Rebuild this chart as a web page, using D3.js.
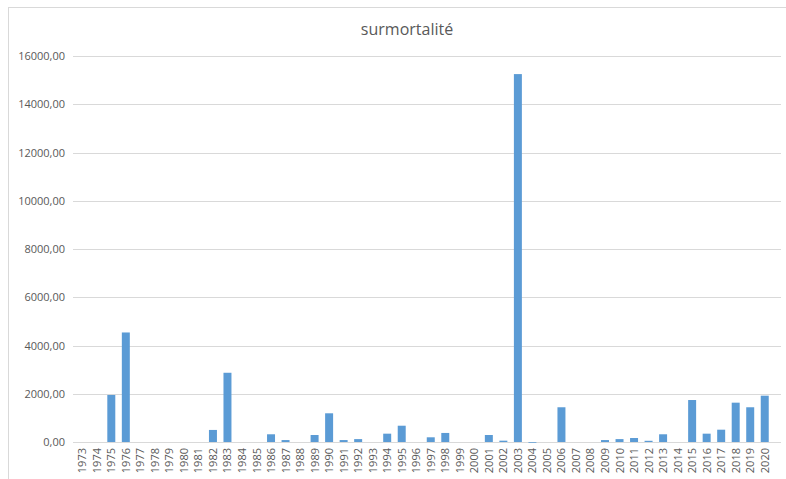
<!DOCTYPE html>
<html>
<head>
<meta charset="utf-8">
<script src="https://cdn.jsdelivr.net/npm/d3@7"></script>
<style>
  body { margin: 0; background: #fff; }
  text { font-family: "Open Sans", "DejaVu Sans", sans-serif; fill: #595959; }
</style>
</head>
<body>
<svg id="canvas" width="786" height="479"></svg>
<script>
const years = d3.range(1973, 2021).map(String)
const surmortalite = [
  0, 0, 1950, 4540, 0, 0, 0, 0, 0, 500,
  2870, 0, 0, 320, 80, 0, 290, 1190, 80, 120,
  0, 345, 675, 0, 195, 375, 0, 0, 290, 55,
  15250, -30, 0, 1440, 0, 0, 80, 120, 165, 50,
  320, 0, 1740, 345, 510, 1630, 1440, 1920
]
const yTicks = [0, 2000, 4000, 6000, 8000, 10000, 12000, 14000, 16000]

const svg = d3.select("#canvas")
const margin = { left: 75, right: 6, top: 56, bottom: 37 }
const W = 786, H = 479

// frame
svg.append("rect")
  .attr("x", 8.5).attr("y", 7.5)
  .attr("width", 800).attr("height", 500)
  .attr("fill", "none").attr("stroke", "#d9d9d9")

const x = d3.scaleBand()
  .domain(years)
  .range([margin.left, 772])
  .paddingInner(0.45).paddingOuter(0.225)

const y = d3.scaleLinear()
  .domain([0, 16000])
  .range([442, 56])

// gridlines
svg.append("g")
  .selectAll("line")
  .data(yTicks)
  .enter()
  .append("line")
  .attr("x1", 73).attr("x2", 781)
  .attr("y1", (d) => Math.round(y(d)) + 0.5)
  .attr("y2", (d) => Math.round(y(d)) + 0.5)
  .attr("stroke", "#d9d9d9")

// y labels
svg.append("g")
  .selectAll("text")
  .data(yTicks)
  .enter()
  .append("text")
  .text((d) => d3.format(".2f")(d).replace(".", ","))
  .attr("x", 65)
  .attr("y", (d) => y(d) + 4)
  .attr("text-anchor", "end")
  .style("font-size", "11px")

// bars
svg.append("g")
  .selectAll("rect")
  .data(surmortalite)
  .enter()
  .append("rect")
  .attr("x", (d, i) => x(years[i]))
  .attr("width", x.bandwidth())
  .attr("y", (d) => y(Math.max(d, 0)))
  .attr("height", (d) => Math.abs(y(d) - y(0)))
  .attr("fill", "#5b9bd5")

// x labels
svg.append("g")
  .selectAll("text")
  .data(years)
  .enter()
  .append("text")
  .text((d) => d)
  .attr("transform", (d) => `translate(${x(d) + x.bandwidth() / 2 + 4},448) rotate(-90)`)
  .attr("text-anchor", "end")
  .style("font-size", "11px")

svg.append("text")
  .text("surmortalité")
  .attr("x", 407)
  .attr("y", 35)
  .attr("text-anchor", "middle")
  .style("font-size", "16px")
</script>
</body>
</html>
